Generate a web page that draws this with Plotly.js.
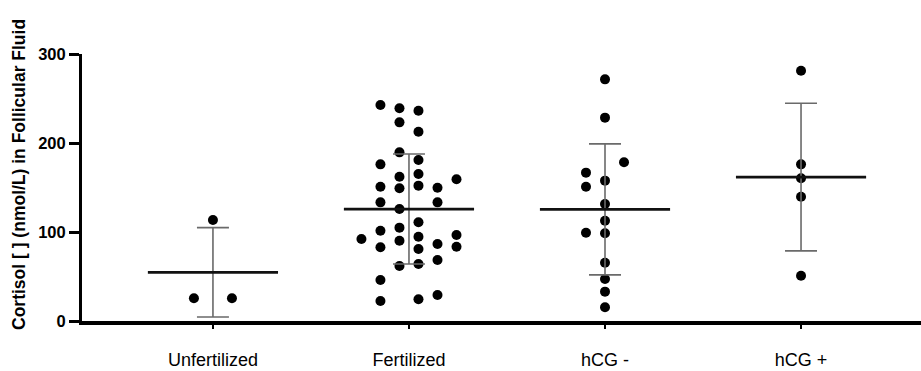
<!DOCTYPE html>
<html>
<head>
<meta charset="utf-8">
<script src="https://cdn.plot.ly/plotly-3.0.1.min.js"></script>
<style>html,body{margin:0;padding:0;background:#fff;}#chart{width:921px;height:371px;}</style>
</head>
<body>
<div id="chart"></div>
<script>
// Categories
const groups = ['Unfertilized', 'Fertilized', 'hCG -', 'hCG +'];
const yTicks = [0, 100, 200, 300];

// Individual values (nmol/L) and their scatter column slot within each group
const unfertilizedValues = [113.5, 25.5, 25.5];
const unfertilizedSlots  = [0, -1, 1];

const fertilizedValues = [242.7, 239, 236.3, 223.2, 212.7, 189.5, 180.9, 176, 162.1, 165.2, 159.2,
  150.9, 149.1, 152.1, 149.8, 133.3, 133.3, 125.8, 110.9, 101.5, 104.9, 92.1, 90.2, 94.7, 96.6,
  82.8, 80.9, 86.5, 83.5, 61.8, 64, 68.5, 46.1, 22.5, 24.4, 29.2];
const fertilizedSlots = [-1.5, -0.5, 0.5, -0.5, 0.5, -0.5, 0.5, -1.5, -0.5, 0.5, 2.5,
  -1.5, -0.5, 0.5, 1.5, -1.5, 1.5, -0.5, 0.5, -1.5, -0.5, -2.5, -0.5, 0.5, 2.5,
  -1.5, 0.5, 1.5, 2.5, -0.5, 0.5, 1.5, -1.5, -1.5, 0.5, 1.5];

const hcgNegValues = [271.5, 228.5, 178.3, 166.7, 157.7, 150.9, 131.5, 112.7, 99.2, 98.5, 65.5, 47.2, 33, 15.4];
const hcgNegSlots  = [0, 0, 1, -1, 0, -1, 0, 0, -1, 0, 0, 0, 0, 0];

const hcgPosValues = [281.2, 176, 160.3, 139.7, 50.9];
const hcgPosSlots  = [0, 0, 0, 0, 0];

// Group means and SD
const means = [54.7, 125.8, 125.4, 161.7];
const sds   = [50.2, 61.8, 73.6, 82.9];

const slotWidth = 0.097;   // x units per scatter column
const meanHalf = 0.332;    // half length of mean line, x units

const valueSets = [unfertilizedValues, fertilizedValues, hcgNegValues, hcgPosValues];
const slotSets  = [unfertilizedSlots, fertilizedSlots, hcgNegSlots, hcgPosSlots];

const traces = [];
valueSets.forEach((vals, gi) => {
  traces.push({
    type: 'scatter', mode: 'markers',
    x: slotSets[gi].map(s => gi + s * slotWidth),
    y: vals,
    marker: {size: 10, color: '#000'},
    cliponaxis: false,
    hoverinfo: 'y', showlegend: false
  });
});
traces.push({
  type: 'scatter', mode: 'markers',
  x: groups.map((g, i) => i), y: means,
  marker: {size: 1, color: 'rgba(0,0,0,0)'},
  error_y: {type: 'data', array: sds, visible: true, color: '#6a6a6a', thickness: 1.6, width: 16},
  error_x: {type: 'constant', value: meanHalf, visible: true, color: '#111', thickness: 2.7, width: 0},
  cliponaxis: false, showlegend: false, hoverinfo: 'y'
});

const layout = {
  width: 921, height: 371,
  margin: {l: 82, r: 0, t: 54, b: 50, pad: 0},
  paper_bgcolor: '#fff', plot_bgcolor: '#fff',
  font: {family: 'Liberation Sans, Arial, sans-serif', color: '#000'},
  showlegend: false,
  xaxis: {
    range: [-0.668, 3.612], tickmode: 'array', tickvals: [0, 1, 2, 3], ticktext: groups,
    showgrid: false, zeroline: false, showline: true, linecolor: '#000', linewidth: 4,
    ticks: 'outside', ticklen: 4, tickwidth: 2, tickcolor: '#000',
    tickfont: {size: 18, family: 'Liberation Sans, Arial, sans-serif', color: '#000'},
    ticklabelstandoff: 15
  },
  yaxis: {
    range: [0, 300], tickmode: 'array', tickvals: yTicks, ticktext: yTicks.map(String),
    showgrid: false, zeroline: false, showline: true, linecolor: '#000', linewidth: 3,
    ticks: 'outside', ticklen: 10, tickwidth: 3, tickcolor: '#000',
    tickfont: {size: 16.5, family: 'Liberation Sans, Arial, sans-serif', color: '#000', weight: 'bold'}
  },
  annotations: [{
    text: 'Cortisol [ ] (nmol/L) in Follicular Fluid',
    textangle: -90, xref: 'paper', yref: 'paper',
    x: -0.0751, y: 0.5506, xanchor: 'center', yanchor: 'middle', showarrow: false,
    font: {size: 17.5, family: 'Liberation Sans, Arial, sans-serif', color: '#000', weight: 'bold'}
  }]
};

Plotly.newPlot('chart', traces, layout, {displayModeBar: false, staticPlot: true});
</script>
</body>
</html>
